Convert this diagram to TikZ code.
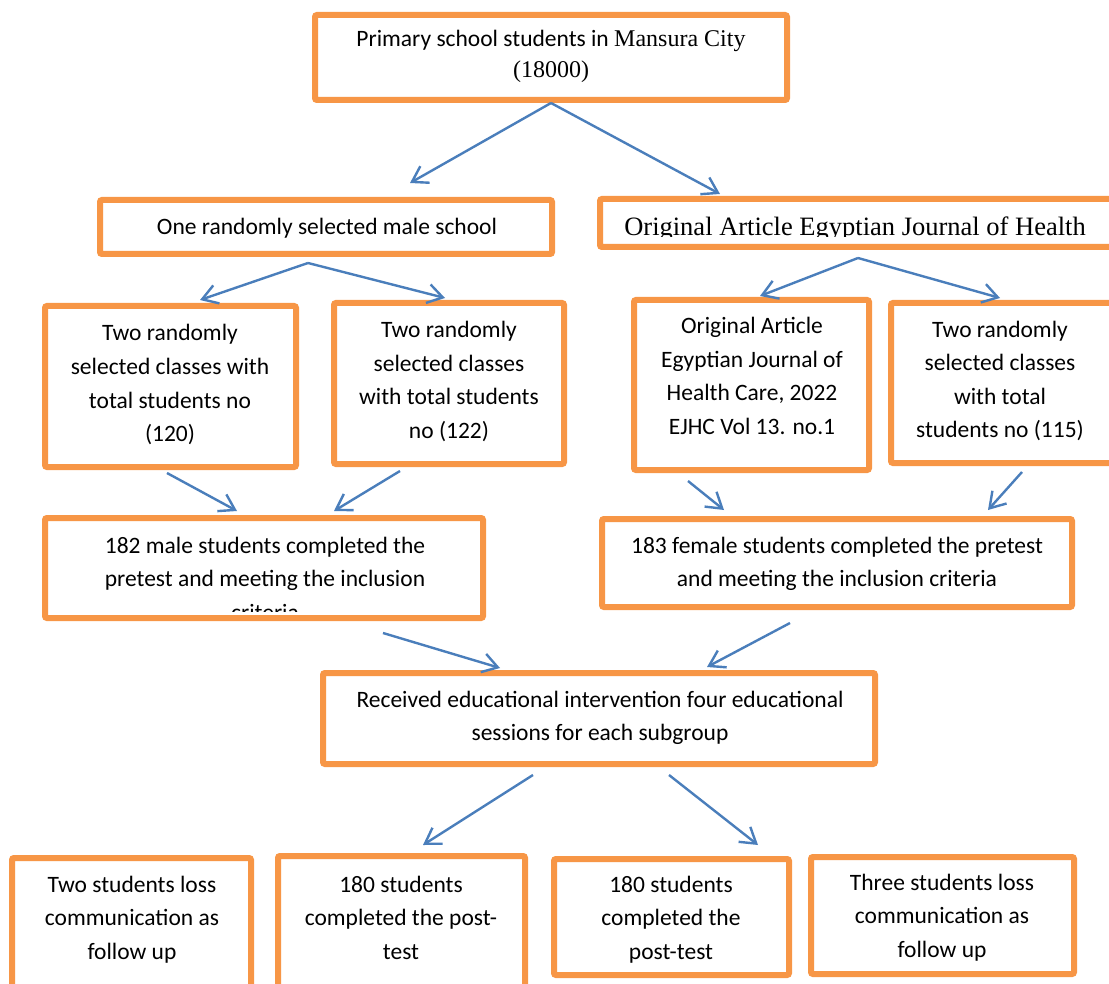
\documentclass[tikz,border=0pt]{standalone}
\usepackage{fontspec}
\setmainfont{Carlito}
\newfontfamily\tnr{Liberation Serif}
\usetikzlibrary{arrows.meta}
\definecolor{boxorange}{HTML}{F79646}
\definecolor{arrowblue}{HTML}{4A7EBB}
\tikzset{
  box/.style={draw=boxorange, line width=6pt, rounded corners=2pt, fill=white, inner sep=0pt},
  txt/.style={anchor=base, align=center, inner sep=0pt, font=\fontsize{23.5}{33.5}\selectfont},
  flow/.style={draw=arrowblue, line width=2.4pt, -{Straight Barb[length=15pt,width=19pt,line width=2.4pt]}}
}
\begin{document}
\begin{tikzpicture}[x=1pt,y=-1pt]
\useasboundingbox (0,0) rectangle (1109,984);
\clip (0,0) rectangle (1109,984);
% boxes
\node[box, minimum width=472pt, minimum height=85pt] (top) at (551,57.5) {};
\node[box, minimum width=452pt, minimum height=54pt] (male) at (326,227) {};
\node[box, minimum width=525pt, minimum height=48pt] (fem) at (862.5,223) {};
\node[box, minimum width=251pt, minimum height=161pt] (ca) at (170.5,386.5) {};
\node[box, minimum width=230pt, minimum height=161pt] (cb) at (449,383.5) {};
\node[box, minimum width=235pt, minimum height=170pt] (cc) at (751.5,385) {};
\node[box, minimum width=234pt, minimum height=160pt] (cd) at (1008,383) {};
\node[box, minimum width=438pt, minimum height=100pt] (m182) at (264,568) {};
\node[box, minimum width=470pt, minimum height=88pt] (f183) at (837,563) {};
\node[box, minimum width=552pt, minimum height=91pt] (interv) at (599,718.5) {};
\node[box, minimum width=239pt, minimum height=142pt] (b1) at (131.5,929) {};
\node[box, minimum width=247pt, minimum height=144pt] (b2) at (401.5,928) {};
\node[box, minimum width=235pt, minimum height=116pt] (b3) at (671.5,917) {};
\node[box, minimum width=263pt, minimum height=117pt] (b4) at (942.5,915.5) {};
% texts (anchor base = baseline of the last line)
\node[txt, font=\fontsize{23.5}{31}\selectfont] (ttop) at (551,78) {Primary school students in {\fontsize{24}{31}\selectfont\tnr Mansura City}\\{\fontsize{24}{31}\selectfont\tnr (18000)}};
\node[txt] (tmale) at (327,235) {One randomly selected male school};
\begin{scope}
\clip (600,200) rectangle (1109,237);
\node[txt, font=\fontsize{26.5}{30}\selectfont\tnr] (tfem) at (855,236) {Original Article Egyptian Journal of Health};
\end{scope}
\node[txt] (tca) at (170,441.5) {Two randomly\\selected classes with\\total students no\\(120)};
\node[txt] (tcb) at (449,438.5) {Two randomly\\selected classes\\with total students\\no (122)};
\node[txt] (tcc) at (752,434) {Original Article\\Egyptian Journal of\\Health Care, 2022\\EJHC Vol 13. no.1};
\node[txt] (tcd) at (1000,437.5) {Two randomly\\selected classes\\with total\\students no (115)};
\begin{scope}
\clip (45,521) rectangle (483,611);
\node[txt] (tm182) at (265,620) {182 male students completed the\\pretest and meeting the inclusion\\criteria};
\end{scope}
\node[txt] (tf183) at (837,586.5) {183 female students completed the pretest\\and meeting the inclusion criteria};
\node[txt] (tinterv) at (600,740.5) {Received educational intervention four educational\\sessions for each subgroup};
\node[txt] (tb1) at (132,959) {Two students loss\\communication as\\follow up};
\node[txt] (tb2) at (401,959) {180 students\\completed the post-\\test};
\node[txt] (tb3) at (671,959) {180 students\\completed the\\post-test};
\node[txt] (tb4) at (942,957) {Three students loss\\communication as\\follow up};
% connector end points
\coordinate (s1) at (551,103);
\coordinate (e1a) at (410,183);
\coordinate (e1b) at (720,194);
\coordinate (s2) at (308,263);
\coordinate (e2a) at (200,300);
\coordinate (e2b) at (445,298);
\coordinate (s3) at (858,258);
\coordinate (e3a) at (760,296);
\coordinate (e3b) at (1000,298);
\coordinate (s4a) at (167,473);
\coordinate (e4a) at (237,511);
\coordinate (s4b) at (400,471);
\coordinate (e4b) at (334,511);
\coordinate (s4c) at (688,481);
\coordinate (e4c) at (724,510);
\coordinate (s4d) at (1022,472);
\coordinate (e4d) at (988,510);
\coordinate (s5a) at (383,633);
\coordinate (e5a) at (500,668);
\coordinate (s5b) at (790,623);
\coordinate (e5b) at (707,667);
\coordinate (s6a) at (533,775);
\coordinate (e6a) at (423,845);
\coordinate (s6b) at (669,775);
\coordinate (e6b) at (758,845);
% connectors
\draw[flow] (s1) -- (e1a);
\draw[flow] (s1) -- (e1b);
\draw[flow] (s2) -- (e2a);
\draw[flow] (s2) -- (e2b);
\draw[flow] (s3) -- (e3a);
\draw[flow] (s3) -- (e3b);
\draw[flow] (s4a) -- (e4a);
\draw[flow] (s4b) -- (e4b);
\draw[flow] (s4c) -- (e4c);
\draw[flow] (s4d) -- (e4d);
\draw[flow] (s5a) -- (e5a);
\draw[flow] (s5b) -- (e5b);
\draw[flow] (s6a) -- (e6a);
\draw[flow] (s6b) -- (e6b);
\end{tikzpicture}
\end{document}
